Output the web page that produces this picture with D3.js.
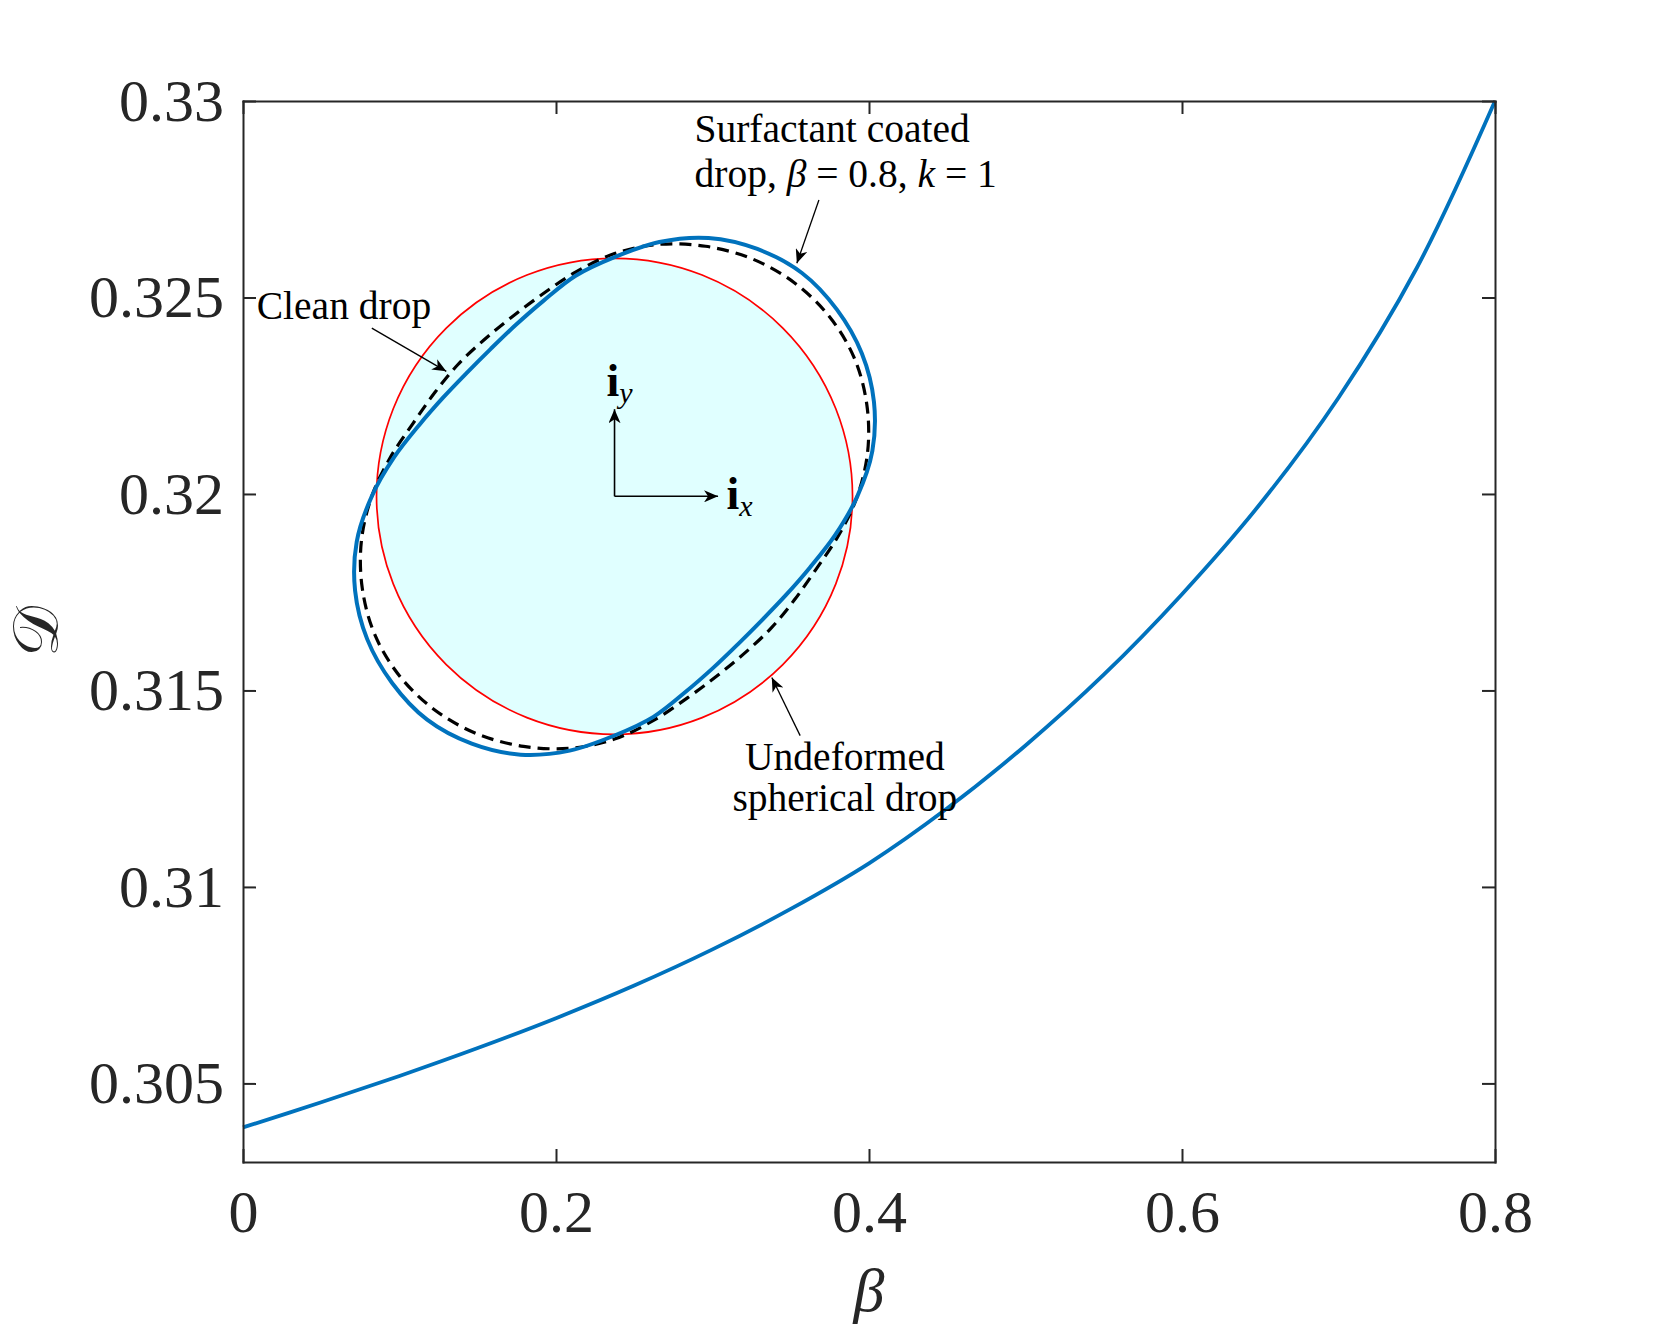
<!DOCTYPE html>
<html>
<head>
<meta charset="utf-8">
<script src="https://cdn.jsdelivr.net/npm/d3@7"></script>
<style>
body{margin:0;background:#fff}
text{font-family:"Liberation Serif",serif;fill:#262626}
</style>
</head>
<body>
<svg id="chart" width="1653" height="1338"></svg>
<script>
// main curve: deformation D against beta
const betaVals=[0,0.05,0.1,0.15,0.2,0.25,0.3,0.35,0.4,0.45,0.5,0.55,0.6,0.65,0.7,0.75,0.8]
const dVals=[0.30388,0.30452,0.30519,0.30590,0.30666,0.30749,0.30841,0.30944,0.31060,0.31200,0.31360,0.31540,0.31745,0.31975,0.32245,0.32575,0.33000]

const xTicks=[0,0.2,0.4,0.6,0.8]
const xTickLabels=["0","0.2","0.4","0.6","0.8"]
const yTicks=[0.305,0.31,0.315,0.32,0.325,0.33]
const yTickLabels=["0.305","0.31","0.315","0.32","0.325","0.33"]

// inset: drop outlines in polar form, radius relative to undeformed drop
const angles=[0,10,20,30,40,50,60,70,80,90,100,110,120,130,140,150,160,170,
              180,190,200,210,220,230,240,250,260,270,280,290,300,310,320,330,340,350]
const surfR=[1.02,1.10,1.16,1.20,1.22,1.225,1.20,1.155,1.085,1.005,0.941,0.874,0.831,0.809,0.809,0.831,0.874,0.941,
             1.02,1.10,1.16,1.20,1.22,1.225,1.20,1.155,1.085,1.005,0.941,0.874,0.831,0.809,0.809,0.831,0.874,0.941]
const cleanR=[1.02,1.08,1.128,1.163,1.177,1.173,1.153,1.118,1.075,1.02,0.955,0.90,0.868,0.856,0.86,0.872,0.90,0.955,
              1.02,1.08,1.128,1.163,1.177,1.173,1.153,1.118,1.075,1.02,0.955,0.90,0.868,0.856,0.86,0.872,0.90,0.955]
const sphereR=1

const ink="#262626"
const blue="#0072BD"

const svg=d3.select("#chart")
const x=d3.scaleLinear().domain([0,0.8]).range([243,1495])
const y=d3.scaleLinear().domain([0.303,0.33]).range([1162,101])

// arrow heads
const defs=svg.append("defs")
defs.append("marker")
    .attr("id","head")
    .attr("viewBox","0 0 14 12")
    .attr("refX",14).attr("refY",6)
    .attr("markerWidth",14).attr("markerHeight",12)
    .attr("markerUnits","userSpaceOnUse")
    .attr("orient","auto")
    .append("path")
    .attr("d","M0,0 L14,6 L0,12 L4,6 Z")
    .attr("fill","#000")

// ----- inset -----
const ic={x:x(0.2374),y:y(0.31994)}
const insetR=238
const u=d3.scaleLinear().domain([-1,1]).range([ic.x-insetR,ic.x+insetR])
const v=d3.scaleLinear().domain([-1,1]).range([ic.y+insetR,ic.y-insetR])

const outline=d3.line()
    .x((r,i)=>u(r*Math.cos(angles[i]*Math.PI/180)))
    .y((r,i)=>v(r*Math.sin(angles[i]*Math.PI/180)))
    .curve(d3.curveCatmullRomClosed.alpha(0.5))

svg.append("circle")
    .attr("cx",u(0)).attr("cy",v(0))
    .attr("r",u(sphereR)-u(0))
    .attr("fill","#e0ffff")
    .attr("stroke","#ff0000")
    .attr("stroke-width",1.7)

svg.append("path")
    .attr("d",outline(cleanR))
    .attr("fill","none")
    .attr("stroke","#000")
    .attr("stroke-width",3.2)
    .attr("stroke-dasharray","12,7")

svg.append("path")
    .attr("d",outline(surfR))
    .attr("fill","none")
    .attr("stroke",blue)
    .attr("stroke-width",4)

// unit vectors
const vecs=[[0.435,0],[0,0.366]]
vecs.forEach(p=>{
    svg.append("line")
       .attr("x1",u(0)).attr("y1",v(0))
       .attr("x2",u(p[0])).attr("y2",v(p[1]))
       .attr("stroke","#000").attr("stroke-width",1.6)
       .attr("marker-end","url(#head)")
})
const iy=svg.append("text").attr("x",u(-0.034)).attr("y",v(0.42)).style("fill","#000")
iy.append("tspan").attr("font-size",46).attr("font-weight","bold").text("i")
iy.append("tspan").attr("font-size",30).attr("font-style","italic").attr("dy",7).text("y")
const ix=svg.append("text").attr("x",u(0.47)).attr("y",v(-0.055)).style("fill","#000")
ix.append("tspan").attr("font-size",46).attr("font-weight","bold").text("i")
ix.append("tspan").attr("font-size",30).attr("font-style","italic").attr("dy",7).text("x")

// ----- main curve -----
const line=d3.line()
    .x((d,i)=>x(betaVals[i]))
    .y(d=>y(d))
    .curve(d3.curveCatmullRom.alpha(0.5))

svg.append("path")
    .attr("d",line(dVals))
    .attr("fill","none")
    .attr("stroke",blue)
    .attr("stroke-width",3.8)

// ----- annotations (data coordinates of main axes) -----
const ann=svg.append("g").attr("font-size",39.5).style("fill","#000")
ann.append("text").attr("x",x(0.2885)).attr("y",y(0.32896)).style("fill","#000").text("Surfactant coated")
const t2=ann.append("text").attr("x",x(0.2885)).attr("y",y(0.32781)).style("fill","#000")
t2.append("tspan").text("drop, ")
t2.append("tspan").attr("font-style","italic").text("β")
t2.append("tspan").text(" = 0.8, ")
t2.append("tspan").attr("font-style","italic").text("k")
t2.append("tspan").text(" = 1")
t2.selectAll("tspan").attr("xml:space","preserve")
ann.append("text").attr("x",x(0.0088)).attr("y",y(0.32445)).style("fill","#000").text("Clean drop")
ann.append("text").attr("x",x(0.3846)).attr("y",y(0.31298)).attr("text-anchor","middle").style("fill","#000").text("Undeformed")
ann.append("text").attr("x",x(0.3846)).attr("y",y(0.31194)).attr("text-anchor","middle").style("fill","#000").text("spherical drop")

const arrows=[
    [[0.3680,0.32748],[0.3539,0.32587]],
    [[0.0823,0.32422],[0.1299,0.32312]],
    [[0.3560,0.31385],[0.3379,0.31533]]
]
arrows.forEach(a=>{
    svg.append("line")
       .attr("x1",x(a[0][0])).attr("y1",y(a[0][1]))
       .attr("x2",x(a[1][0])).attr("y2",y(a[1][1]))
       .attr("stroke","#000").attr("stroke-width",1.3)
       .attr("marker-end","url(#head)")
})

// ----- axes -----
const styleAxis=g=>{
    g.select(".domain").attr("stroke",ink).attr("stroke-width",2).attr("stroke-linecap","square")
    g.selectAll(".tick line").attr("stroke",ink).attr("stroke-width",2)
    g.selectAll(".tick text").attr("font-size",60).style("fill",ink)
}
svg.append("g")
   .attr("transform",`translate(0,${y(0.303)})`)
   .call(d3.axisBottom(x).tickValues(xTicks).tickFormat((d,i)=>xTickLabels[i]).tickSizeInner(-13).tickSizeOuter(0).tickPadding(27))
   .call(styleAxis)
svg.append("g")
   .attr("transform",`translate(0,${y(0.33)})`)
   .call(d3.axisTop(x).tickValues(xTicks).tickFormat("").tickSizeInner(-13).tickSizeOuter(0))
   .call(styleAxis)
svg.append("g")
   .attr("transform",`translate(${x(0)},0)`)
   .call(d3.axisLeft(y).tickValues(yTicks).tickFormat((d,i)=>yTickLabels[i]).tickSizeInner(-13).tickSizeOuter(0).tickPadding(19))
   .call(styleAxis)
svg.append("g")
   .attr("transform",`translate(${x(0.8)},0)`)
   .call(d3.axisRight(y).tickValues(yTicks).tickFormat("").tickSizeInner(-13).tickSizeOuter(0))
   .call(styleAxis)

// axis labels
svg.append("text")
   .attr("x",(x(0)+x(0.8))/2).attr("y",1311)
   .attr("text-anchor","middle")
   .attr("font-size",62).attr("font-style","italic")
   .text("β")
svg.append("text")
   .attr("transform",`translate(58,${(y(0.303)+y(0.33))/2}) rotate(-90)`)
   .attr("text-anchor","middle")
   .attr("font-size",64)
   .text("𝒟")
</script>
</body>
</html>
